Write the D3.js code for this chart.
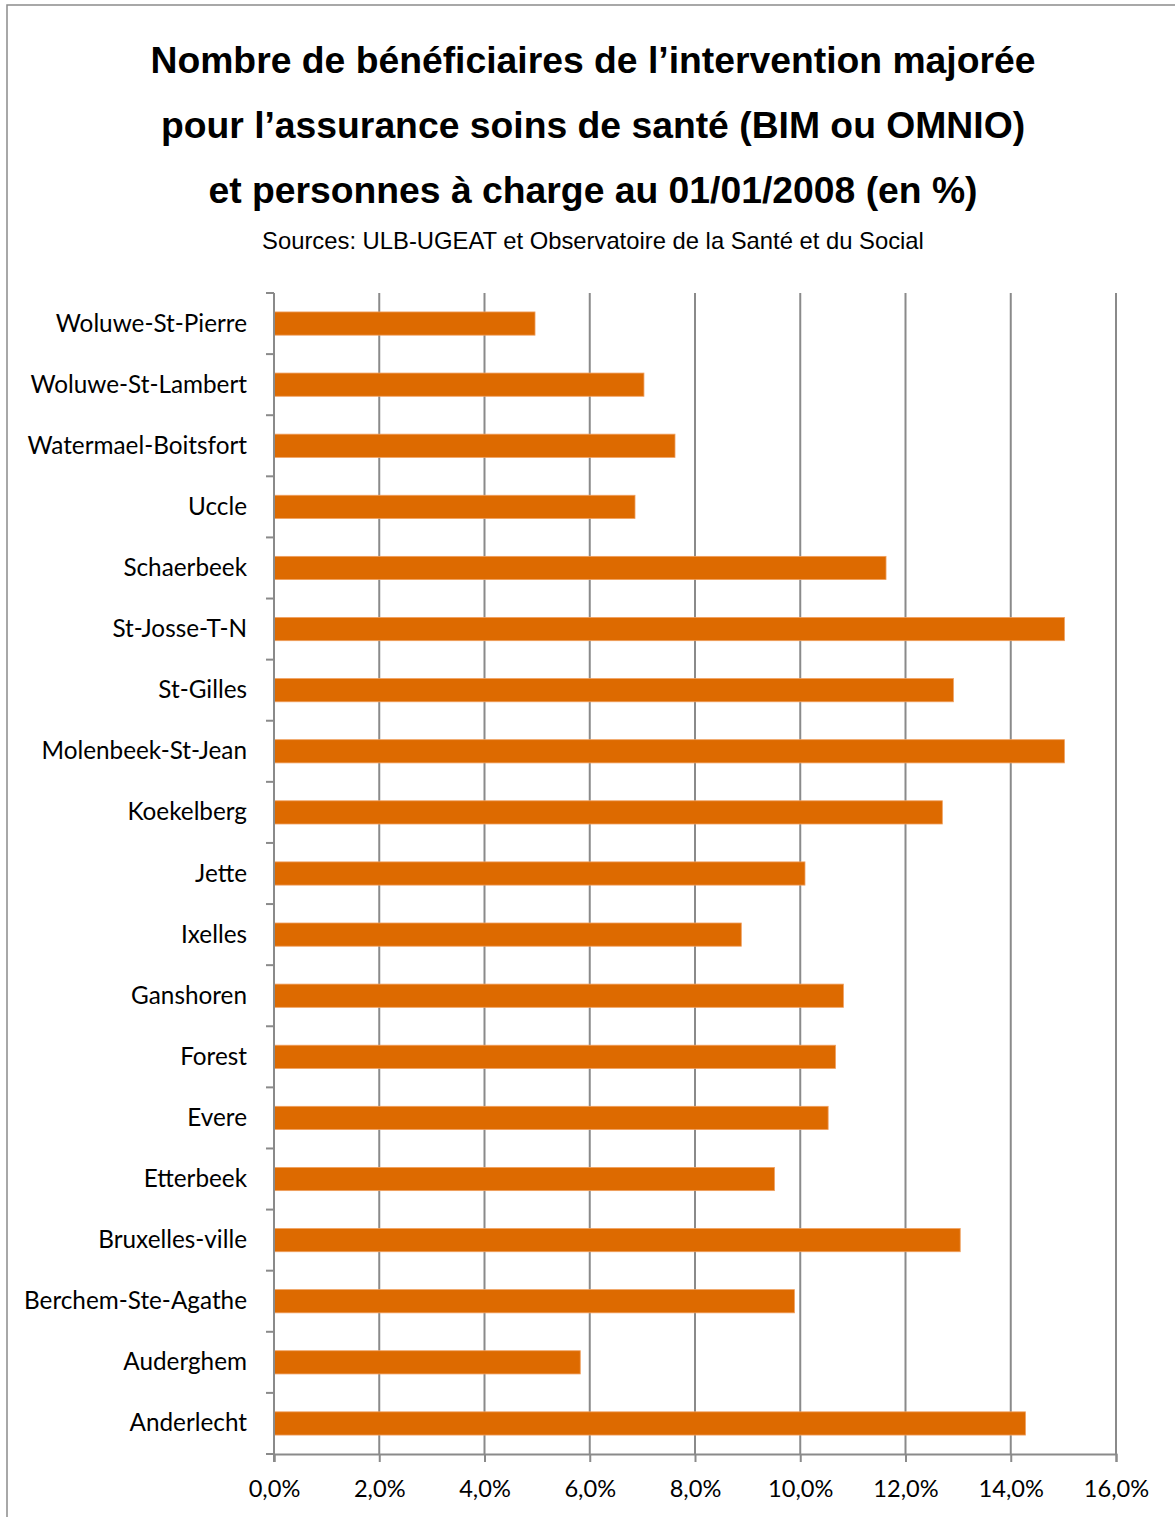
<!DOCTYPE html>
<html>
<head>
<meta charset="utf-8">
<script src="https://cdn.jsdelivr.net/npm/d3@7"></script>
<style>
  html, body { margin: 0; padding: 0; background: #fff; }
  svg { display: block; }
</style>
</head>
<body>
<svg id="chart" width="1175" height="1517"></svg>
<script>
// Communes, listed top to bottom as drawn
const communes = [
  "Woluwe-St-Pierre", "Woluwe-St-Lambert", "Watermael-Boitsfort", "Uccle",
  "Schaerbeek", "St-Josse-T-N", "St-Gilles", "Molenbeek-St-Jean", "Koekelberg",
  "Jette", "Ixelles", "Ganshoren", "Forest", "Evere", "Etterbeek",
  "Bruxelles-ville", "Berchem-Ste-Agathe", "Auderghem", "Anderlecht"
];
// Share of BIM/OMNIO beneficiaries (%)
const shares = [
  4.96, 7.03, 7.62, 6.86,
  11.63, 15.02, 12.91, 15.02, 12.70,
  10.09, 8.88, 10.82, 10.67, 10.53, 9.51,
  13.04, 9.89, 5.82, 14.28
];
const xTicks = [0, 2, 4, 6, 8, 10, 12, 14, 16];
const titleLines = [
  "Nombre de bénéficiaires de l’intervention majorée",
  "pour l’assurance soins de santé (BIM ou OMNIO)",
  "et personnes à charge au 01/01/2008 (en %)"
];
const subtitle = "Sources: ULB-UGEAT et Observatoire de la Santé et du Social";

const svg = d3.select("#chart");

// outer frame
svg.append("rect")
  .attr("x", 7).attr("y", 5)
  .attr("width", 1175).attr("height", 1520)
  .attr("fill", "none").attr("stroke", "#8c8c8c").attr("stroke-width", 1.5);

const plot = { left: 274, right: 1116, top: 293, bottom: 1454 };

const x = d3.scaleLinear().domain([0, 16]).range([plot.left, plot.right]);
const y = d3.scaleBand().domain(communes)
  .range([plot.top, plot.bottom]).paddingInner(0.62).paddingOuter(0.31);
const yEdges = d3.scaleLinear().domain([0, communes.length]).range([plot.top, plot.bottom]);

// titles
svg.append("g").selectAll("text").data(titleLines).join("text")
  .attr("x", 593).attr("y", (d, i) => 73 + i * 65)
  .attr("text-anchor", "middle")
  .attr("font-family", "Liberation Sans, Arial, sans-serif")
  .attr("font-weight", "bold").attr("font-size", 37.3)
  .attr("fill", "#000").text(d => d);

svg.append("text")
  .attr("x", 593).attr("y", 249)
  .attr("text-anchor", "middle")
  .attr("font-family", "Liberation Sans, Arial, sans-serif")
  .attr("font-size", 23.8).attr("fill", "#000").text(subtitle);

// vertical gridlines
svg.append("g").selectAll("line").data(xTicks.slice(1)).join("line")
  .attr("x1", d => x(d)).attr("x2", d => x(d))
  .attr("y1", plot.top).attr("y2", plot.bottom)
  .attr("stroke", "#8a8a8a").attr("stroke-width", 2);

// bars
svg.append("g").selectAll("rect").data(communes).join("rect")
  .attr("x", x(0))
  .attr("y", d => y(d))
  .attr("width", (d, i) => x(shares[i]) - x(0))
  .attr("height", y.bandwidth())
  .attr("fill", "#dd6a00")
  .attr("stroke", "#f0a060").attr("stroke-width", 0.8);

// x axis
const xAxis = d3.axisBottom(x).tickValues(xTicks).tickSize(8).tickPadding(18)
  .tickFormat(d => d3.format(".1f")(d).replace(".", ",") + "%");
const gx = svg.append("g").attr("transform", `translate(0,${plot.bottom})`).call(xAxis);
gx.select(".domain").attr("stroke", "#8a8a8a").attr("stroke-width", 2);
gx.selectAll(".tick line").attr("stroke", "#8a8a8a").attr("stroke-width", 2);
gx.selectAll(".tick text")
  .attr("font-family", "Lato, 'Open Sans', sans-serif")
  .attr("font-size", 23.6).attr("fill", "#000");

// y axis: line plus category separators
svg.append("line")
  .attr("x1", plot.left).attr("x2", plot.left)
  .attr("y1", plot.top).attr("y2", plot.bottom + 8)
  .attr("stroke", "#8a8a8a").attr("stroke-width", 2);
svg.append("g").selectAll("line").data(d3.range(communes.length + 1)).join("line")
  .attr("x1", plot.left - 8).attr("x2", plot.left)
  .attr("y1", d => yEdges(d)).attr("y2", d => yEdges(d))
  .attr("stroke", "#8a8a8a").attr("stroke-width", 2);

svg.append("g").selectAll("text").data(communes).join("text")
  .attr("x", 247)
  .attr("y", d => y(d) + y.bandwidth() / 2)
  .attr("dy", "0.33em")
  .attr("text-anchor", "end")
  .attr("font-family", "Lato, 'Open Sans', sans-serif")
  .attr("font-size", 24.3).attr("fill", "#000")
  .text(d => d);
</script>
</body>
</html>
